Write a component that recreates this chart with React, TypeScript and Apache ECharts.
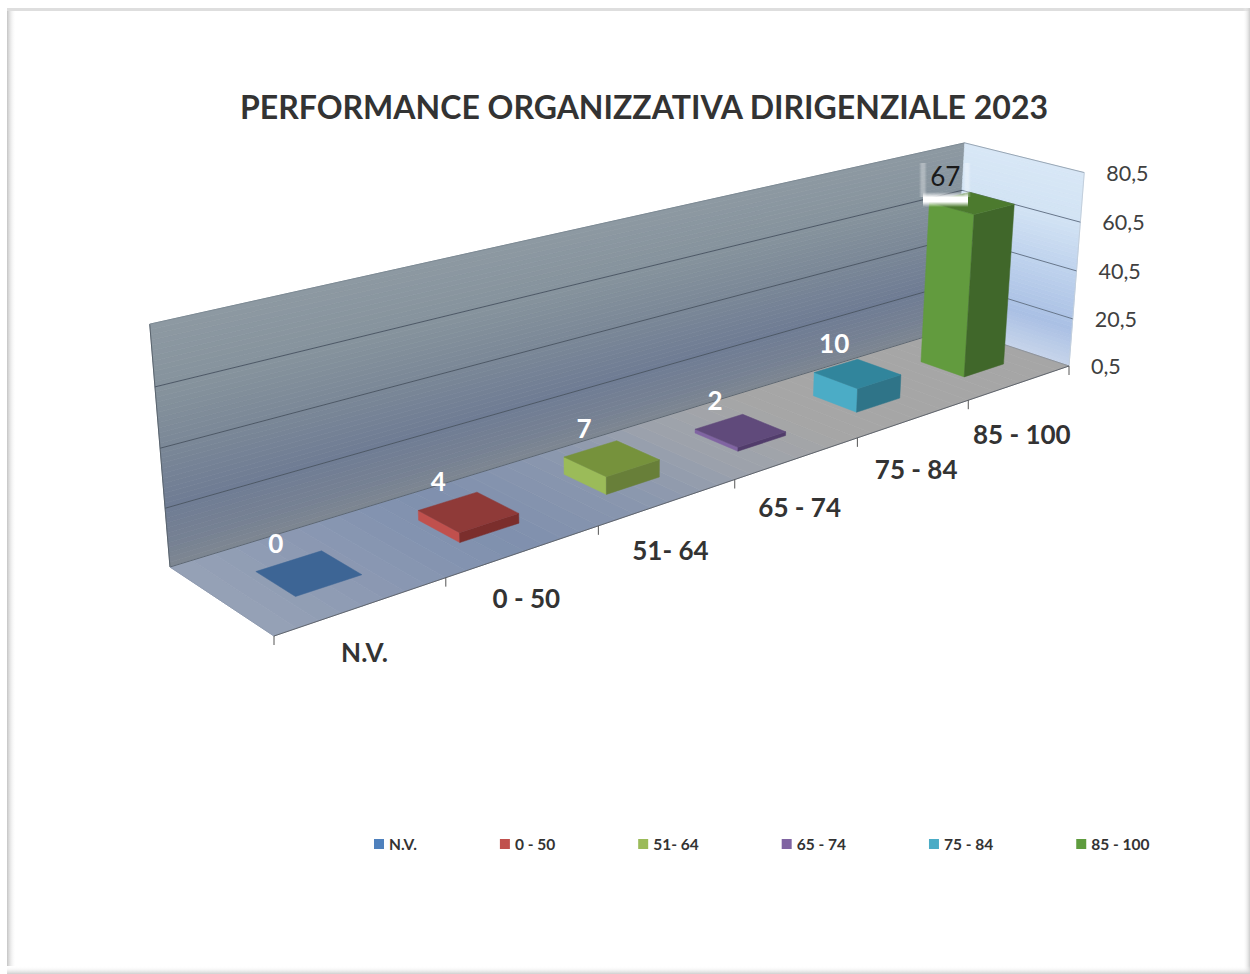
import React, { useEffect, useRef } from "react";
import * as echarts from "echarts";

const categories = ["N.V.", "0 - 50", "51- 64", "65 - 74", "75 - 84", "85 - 100"];
const values = [0, 4, 7, 2, 10, 67];
const valueTicks = [0.5, 20.5, 40.5, 60.5, 80.5];
const legendColors = ["#4f81bd", "#c0504d", "#9bbb59", "#8064a2", "#4bacc6", "#5f9c3e"];
const topColors = ["#3d6595", "#8f3a38", "#76923c", "#604a7b", "#31859c", "#4c7a2e"];
const sideColors = ["#3d6595", "#c0504d", "#9bbb59", "#8064a2", "#4bacc6", "#629b3e"];
const frontColors = ["#3d6595", "#7b2e2c", "#687f39", "#513c6b", "#2f7488", "#40672a"];
const titleText = "PERFORMANCE ORGANIZZATIVA DIRIGENZIALE 2023";

const FONT = "Lato, 'Open Sans', sans-serif";

// Scene calibration: where the corners of the 3D box land on the page
const floorFL = [274, 636], floorFR = [1069, 366], floorBL = [170, 567], floorBR = [954, 328];
const topBL = [150, 322], topBR = [961, 145], topFR = [1088, 172];

function solve(A: number[][], b: number[]): number[] {
  const n = b.length;
  const M = A.map((r, i) => [...r, b[i]]);
  for (let i = 0; i < n; i++) {
    let p = i;
    for (let k = i + 1; k < n; k++) if (Math.abs(M[k][i]) > Math.abs(M[p][i])) p = k;
    [M[i], M[p]] = [M[p], M[i]];
    for (let k = i + 1; k < n; k++) {
      const f = M[k][i] / M[i][i];
      for (let j = i; j <= n; j++) M[k][j] -= f * M[i][j];
    }
  }
  const x = new Array(n).fill(0);
  for (let i = n - 1; i >= 0; i--) {
    let s = M[i][n];
    for (let j = i + 1; j < n; j++) s -= M[i][j] * x[j];
    x[i] = s / M[i][i];
  }
  return x;
}

const floorPairs: [number, number, number[]][] = [[0, 0, floorFL], [1, 0, floorFR], [0, 1, floorBL], [1, 1, floorBR]];
const HA: number[][] = [];
const Hb: number[] = [];
floorPairs.forEach(([u, v, p]) => {
  HA.push([u, v, 1, 0, 0, 0, -u * p[0], -v * p[0]]);
  Hb.push(p[0]);
  HA.push([0, 0, 0, u, v, 1, -u * p[1], -v * p[1]]);
  Hb.push(p[1]);
});
const Hs = solve(HA, Hb);
const H = [Hs.slice(0, 3), Hs.slice(3, 6), [Hs[6], Hs[7], 1]];
// third (height) column, least squares
const topPairs: [number, number, number[]][] = [[0, 1, topBL], [1, 1, topBR], [1, 0, topFR]];
const LA: number[][] = [];
const Lb: number[] = [];
topPairs.forEach(([u, v, p]) => {
  const X = H[0][0] * u + H[0][1] * v + H[0][2];
  const Y = H[1][0] * u + H[1][1] * v + H[1][2];
  const W = H[2][0] * u + H[2][1] * v + H[2][2];
  LA.push([1, 0, -p[0]]);
  Lb.push(p[0] * W - X);
  LA.push([0, 1, -p[1]]);
  Lb.push(p[1] * W - Y);
});
const NA = [0, 1, 2].map((i) => [0, 1, 2].map((j) => LA.reduce((s, r) => s + r[i] * r[j], 0)));
const Nb = [0, 1, 2].map((i) => LA.reduce((s, r, k) => s + r[i] * Lb[k], 0));
const C = solve(NA, Nb);

function project(u: number, v: number, h: number): number[] {
  const X = H[0][0] * u + H[0][1] * v + H[0][2] + C[0] * h;
  const Y = H[1][0] * u + H[1][1] * v + H[1][2] + C[1] * h;
  const W = H[2][0] * u + H[2][1] * v + H[2][2] + C[2] * h;
  return [X / W, Y / W];
}

type Stop = [number, number[]];
const backWallStops: Stop[] = [
  [0, [126, 135, 145]], [0.1, [118, 129, 147]], [0.27, [111, 124, 148]], [0.5, [122, 135, 151]], [0.75, [134, 147, 157]], [1, [141, 153, 162]],
];
const sideWallStops: Stop[] = [
  [0, [198, 212, 234]], [0.2, [170, 192, 228]], [0.45, [188, 208, 236]], [0.75, [210, 227, 244]], [1, [216, 231, 246]],
];
const floorStops: Stop[] = [
  [0, [150, 162, 182]], [0.12, [138, 152, 178]], [0.25, [127, 144, 174]], [0.4, [138, 151, 174]], [0.52, [156, 162, 172]], [0.65, [166, 166, 166]], [1, [166, 166, 166]],
];
function mix(stops: Stop[], t: number): string {
  let i = 0;
  while (i < stops.length - 2 && t > stops[i + 1][0]) i++;
  const [a, ca] = stops[i];
  const [b, cb] = stops[i + 1];
  const f = Math.max(0, Math.min(1, (t - a) / (b - a)));
  const c = ca.map((x, k) => Math.round(x + (cb[k] - x) * f));
  return `rgb(${c[0]},${c[1]},${c[2]})`;
}

const STRIPS = 48;
function sceneGraphics(): any[] {
  const out: any[] = [];
  const poly = (pts: number[][], fill: string) =>
    out.push({ type: "polygon", silent: true, shape: { points: pts }, style: { fill, stroke: fill, lineWidth: 0.7 } });
  const line = (a: number[], b: number[], stroke: string, lineWidth = 1) =>
    out.push({ type: "line", silent: true, shape: { x1: a[0], y1: a[1], x2: b[0], y2: b[1] }, style: { stroke, lineWidth } });
  for (let i = 0; i < STRIPS; i++) {
    const a = i / STRIPS, b = (i + 1) / STRIPS, m = (a + b) / 2;
    poly([project(0, 1, a), project(1, 1, a), project(1, 1, b), project(0, 1, b)], mix(backWallStops, m));
    poly([project(1, 1, a), project(1, 0, a), project(1, 0, b), project(1, 1, b)], mix(sideWallStops, m));
    poly([project(a, 0, 0), project(b, 0, 0), project(b, 1, 0), project(a, 1, 0)], mix(floorStops, m));
  }
  line(project(0, 1, 0), project(0, 1, 1), "#59636d");
  line(project(0, 1, 1), project(1, 1, 1), "#7d8a94");
  line(project(1, 1, 1), project(1, 0, 1), "#98a6b4");
  line(project(1, 0, 1), project(1, 0, 0), "#c3cfdc");
  line(project(1, 1, 0), project(1, 0, 0), "#8d939b");
  line(project(0, 1, 0), project(1, 1, 0), "#5d6772");
  line(project(0, 0, 0), project(1, 0, 0), "#5f646c");
  line(project(0, 0, 0), project(0, 1, 0), "#8f9bb0");
  categories.concat("").forEach((_, i) => {
    const p = project(i / categories.length, 0, 0);
    line(p, [p[0], p[1] + 9], "#555555");
  });
  // white glow round the last data label
  const glow = (x: number, y: number, width: number, height: number, vertical: boolean, a: number) =>
    out.push({
      type: "rect", silent: true, z: 50, shape: { x, y, width, height },
      style: {
        fill: new echarts.graphic.LinearGradient(0, 0, vertical ? 0 : 1, vertical ? 1 : 0, [
          { offset: 0, color: "rgba(255,255,255,0)" },
          { offset: 0.35, color: `rgba(255,255,255,${a})` },
          { offset: 0.65, color: `rgba(255,255,255,${a})` },
          { offset: 1, color: "rgba(255,255,255,0)" },
        ]),
      },
    });
  glow(923, 192, 45, 15, true, 1);
  glow(919, 163, 8, 34, false, 0.32);
  glow(963, 163, 8, 34, false, 0.32);
  // page frame
  out.push({
    type: "rect", silent: true, z: 60, shape: { x: 7, y: 8, width: 9, height: 958 },
    style: { fill: new echarts.graphic.LinearGradient(0, 0, 1, 0, [{ offset: 0, color: "#c4c4c4" }, { offset: 1, color: "rgba(255,255,255,0)" }]) },
  });
  out.push({ type: "rect", silent: true, z: 60, shape: { x: 7, y: 8, width: 1243, height: 3 }, style: { fill: "#dedede" } });
  out.push({
    type: "rect", silent: true, z: 60, shape: { x: 1243, y: 8, width: 7, height: 966 },
    style: { fill: new echarts.graphic.LinearGradient(0, 0, 1, 0, [{ offset: 0, color: "rgba(255,255,255,0)" }, { offset: 1, color: "#cccccc" }]) },
  });
  out.push({
    type: "rect", silent: true, z: 60, shape: { x: 7, y: 966, width: 1243, height: 8 },
    style: { fill: new echarts.graphic.LinearGradient(0, 0, 0, 1, [{ offset: 0, color: "rgba(255,255,255,0)" }, { offset: 1, color: "#cfcfcf" }]) },
  });
  return out;
}

const BAR_HALF = 0.195; // of a category band
const V0 = 0.3, V1 = 0.675;

function normal(api: any, params: any, cat: any, val: number) {
  const g = params.coordSys;
  const c = api.coord([cat, val]);
  return { u: (c[0] - g.x) / g.width, h: Math.max(0, 1 - (c[1] - g.y) / g.height) };
}

function renderBar(index: number) {
  return (params: any, api: any) => {
    const cat = api.value(0);
    const val = api.value(1);
    const g = params.coordSys;
    const { u, h } = normal(api, params, cat, val);
    const half = (api.size([1, 0])[0] / g.width) * BAR_HALF;
    const u0 = u - half, u1 = u + half;
    const children: any[] = [];
    const face = (pts: number[][], fill: string) =>
      children.push({ type: "polygon", shape: { points: pts }, style: { fill, stroke: fill, lineWidth: 0.5 } });
    if (h > 0) {
      face([project(u0, V1, 0), project(u0, V0, 0), project(u0, V0, h), project(u0, V1, h)], sideColors[index]);
      face([project(u0, V0, 0), project(u1, V0, 0), project(u1, V0, h), project(u0, V0, h)], frontColors[index]);
    }
    face([project(u0, V0, h), project(u1, V0, h), project(u1, V1, h), project(u0, V1, h)], topColors[index]);
    const anchor = project(u0, V1, h);
    const isTall = val > 50;
    children.push({
      type: "text", z2: 10,
      style: {
        x: anchor[0] + (isTall ? 16 : 20), y: anchor[1] - (isTall ? 26 : 29), text: String(val), align: "center", verticalAlign: "middle",
        fontFamily: FONT, fontSize: 26, fontWeight: isTall ? "normal" : "bold", fill: isTall ? "#1a1a1a" : "#ffffff",
      },
    });
    const foot = project(u, 0, 0);
    children.push({
      type: "text",
      style: {
        x: foot[0] + 2, y: foot[1] + 45 + 7 * u, text: categories[index], align: "center", verticalAlign: "middle",
        fontFamily: FONT, fontSize: 26, fontWeight: "bold", fill: "#333333",
      },
    });
    return { type: "group", children };
  };
}

function renderTick(params: any, api: any) {
  const val = api.value(1);
  const { h } = normal(api, params, 0, val);
  const left = project(0, 1, h), corner = project(1, 1, h), right = project(1, 0, h);
  const children: any[] = [];
  if (h > 0.001 && h < 0.999) {
    children.push({ type: "line", shape: { x1: left[0], y1: left[1], x2: corner[0], y2: corner[1] }, style: { stroke: "#4d5866", lineWidth: 1 } });
    children.push({ type: "line", shape: { x1: corner[0], y1: corner[1], x2: right[0], y2: right[1] }, style: { stroke: "#67768a", lineWidth: 1 } });
  }
  children.push({
    type: "text",
    style: {
      x: right[0] + 22, y: right[1], text: String(val).replace(".", ","), align: "left", verticalAlign: "middle",
      fontFamily: FONT, fontSize: 21.5, fill: "#404040",
    },
  });
  return { type: "group", children };
}

export default function App() {
  const ref = useRef<HTMLDivElement>(null);
  useEffect(() => {
    document.body.style.margin = "0";
    const chart = echarts.init(ref.current!, undefined, { renderer: "svg" });
    chart.setOption({
      animation: false,
      backgroundColor: "#ffffff",
      title: {
        text: titleText, left: 644, top: 90, textAlign: "center", padding: 0,
        textStyle: { fontFamily: FONT, fontSize: 32, fontWeight: "bold", color: "#333333" },
      },
      legend: {
        data: categories, left: 374, top: 836, padding: 0, itemWidth: 10, itemHeight: 10, itemGap: 83, icon: "rect",
        textStyle: { fontFamily: FONT, fontSize: 15.5, fontWeight: "bold", color: "#333333" },
      },
      grid: { left: 0, right: 0, top: 0, bottom: 0 },
      xAxis: { type: "category", data: categories, show: false },
      yAxis: { type: "value", min: valueTicks[0], max: valueTicks[valueTicks.length - 1], show: false, splitLine: { show: false } },
      graphic: { elements: sceneGraphics() },
      series: [
        {
          type: "custom", name: "ticks", silent: true, z: 1, renderItem: renderTick,
          data: valueTicks.map((t) => [categories[0], t]), encode: { x: 0, y: 1 },
        },
        ...categories.map((name, i) => ({
          type: "custom", name, silent: true, z: 2, renderItem: renderBar(i),
          itemStyle: { color: legendColors[i] },
          data: [[name, values[i]]], encode: { x: 0, y: 1 },
        })),
      ],
    });
    return () => chart.dispose();
  }, []);
  return <div ref={ref} style={{ width: 1250, height: 974, position: "absolute", left: 0, top: 0 }} />;
}
